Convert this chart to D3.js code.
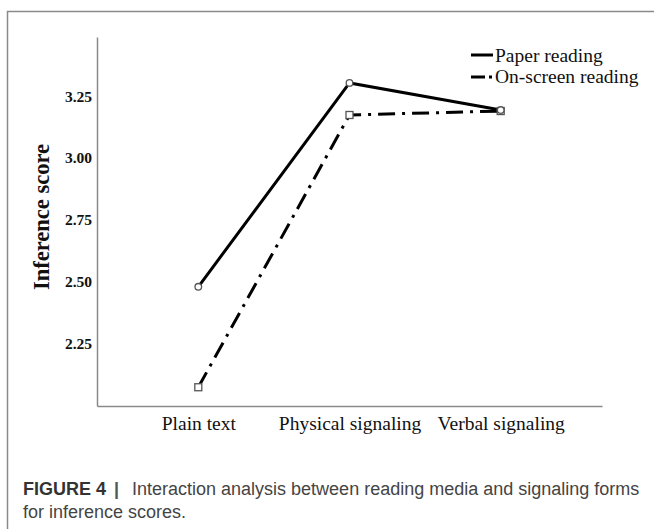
<!DOCTYPE html>
<html>
<head>
<meta charset="utf-8">
<script src="https://cdn.jsdelivr.net/npm/d3@7"></script>
<style>
  html, body { margin: 0; padding: 0; background: #fff; }
  svg { display: block; }
</style>
</head>
<body>
<svg id="chart" width="654" height="529"></svg>
<script>
const categories = ["Plain text", "Physical signaling", "Verbal signaling"];
const paperReading = [2.478, 3.304, 3.194];
const onScreenReading = [2.071, 3.174, 3.19];
const yTicks = [2.25, 2.50, 2.75, 3.00, 3.25];
const seriesNames = ["Paper reading", "On-screen reading"];
const yTitle = "Inference score";
const captionBold = "FIGURE 4";
const captionSep = "|";
const captionLine1 = "Interaction analysis between reading media and signaling forms";
const captionLine2 = "for inference scores.";

const svg = d3.select("#chart");
const serif = "'Liberation Serif', 'Times New Roman', serif";
const sans = "'Liberation Sans', Arial, sans-serif";

// outer frame (left and top edges visible)
svg.append("path")
  .attr("d", "M7.5,529 L7.5,11.5 L654,11.5")
  .attr("fill", "none").attr("stroke", "#8a8a8a").attr("stroke-width", 1.5);

const x = d3.scalePoint().domain(categories).range([97, 602]).padding(0.67);
const y = d3.scaleLinear().domain([1.995, 3.49]).range([406, 37]);

// Y axis
const yAxis = svg.append("g").attr("transform", "translate(97,0)")
  .call(d3.axisLeft(y).tickValues(yTicks).tickFormat(d3.format(".2f")).tickSize(0).tickPadding(5));
yAxis.select(".domain").attr("stroke", "#8a8a8a").attr("stroke-width", 1.5);
yAxis.selectAll("text").attr("font-family", serif).attr("font-weight", "bold")
  .attr("font-size", 15.5).attr("fill", "#111");

// X axis
const xAxis = svg.append("g").attr("transform", "translate(0,406)")
  .call(d3.axisBottom(x).tickSize(0).tickPadding(0));
xAxis.select(".domain").attr("stroke", "#8a8a8a").attr("stroke-width", 1.5);
xAxis.selectAll("text").attr("font-family", serif).attr("font-size", 19.5)
  .attr("fill", "#111").attr("dy", 0).attr("y", 24);

// Y title
svg.append("text")
  .attr("transform", "translate(49,217) rotate(-90)")
  .attr("text-anchor", "middle")
  .attr("font-family", serif).attr("font-weight", "bold").attr("font-size", 22.5)
  .attr("fill", "#111")
  .text(yTitle);

const line = d3.line().x((d, i) => x(categories[i])).y(d => y(d));

// On-screen reading (dash-dot)
svg.append("path").datum(onScreenReading)
  .attr("d", line).attr("fill", "none").attr("stroke", "#000")
  .attr("stroke-width", 3).attr("stroke-dasharray", "17,7,3,7");

// Paper reading (solid)
svg.append("path").datum(paperReading)
  .attr("d", line).attr("fill", "none").attr("stroke", "#000")
  .attr("stroke-width", 3);

// markers
svg.selectAll(".sq").data(onScreenReading).enter().append("rect")
  .attr("x", (d, i) => x(categories[i]) - 3.5).attr("y", d => y(d) - 3.5)
  .attr("width", 7).attr("height", 7)
  .attr("fill", "#fff").attr("stroke", "#555").attr("stroke-width", 1.3);
svg.selectAll(".ci").data(paperReading).enter().append("circle")
  .attr("cx", (d, i) => x(categories[i])).attr("cy", d => y(d)).attr("r", 3.3)
  .attr("fill", "#fff").attr("stroke", "#555").attr("stroke-width", 1.3);

// Legend
const lg = svg.append("g");
lg.append("line").attr("x1", 471).attr("x2", 493).attr("y1", 55).attr("y2", 55)
  .attr("stroke", "#000").attr("stroke-width", 3);
lg.append("line").attr("x1", 471).attr("x2", 493).attr("y1", 77).attr("y2", 77)
  .attr("stroke", "#000").attr("stroke-width", 3).attr("stroke-dasharray", "14,4,3,10");
lg.selectAll("text").data(seriesNames).enter().append("text")
  .attr("x", 495).attr("y", (d, i) => 62 + i * 21)
  .attr("font-family", serif).attr("font-size", 19.5).attr("fill", "#111")
  .text(d => d);

// Caption
const capG = svg.append("g").attr("font-family", sans).attr("font-size", 18);
capG.append("text").attr("x", 23).attr("y", 495)
  .attr("font-weight", "bold").attr("fill", "#333").text(captionBold);
capG.append("text").attr("x", 114).attr("y", 495)
  .attr("font-weight", "bold").attr("fill", "#555").text(captionSep);
capG.append("text").attr("x", 132).attr("y", 495)
  .attr("fill", "#444").text(captionLine1);
capG.append("text").attr("x", 23).attr("y", 518)
  .attr("fill", "#444").text(captionLine2);
</script>
</body>
</html>
